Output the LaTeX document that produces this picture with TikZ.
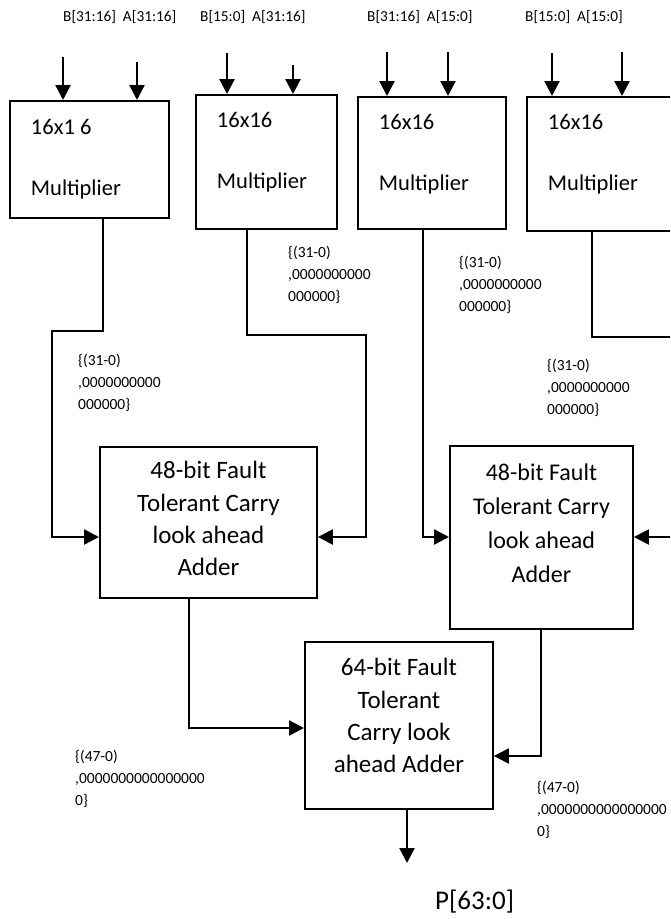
\documentclass[tikz,border=0pt]{standalone}
\usepackage{fontspec}
\setmainfont{Carlito}
\usetikzlibrary{arrows.meta}

% Fixed-size block: width, height, first baseline, setup (font/alignment), text
\newcommand\blockbox[5]{%
  \parbox[c][#2][t]{#1}{#4\rule{0pt}{#3}#5}}
\newcommand\multset{\fontsize{22.5}{61}\selectfont\leftskip=21pt\relax}
\newcommand\addset{\fontsize{25}{32.3}\selectfont\centering}
\newcommand\addsetb{\fontsize{24}{33.7}\selectfont\centering}

\begin{document}
\begin{tikzpicture}[x=1pt,y=-1pt,
  box/.style={draw, line width=1.9pt, inner sep=0pt, anchor=north west},
  wire/.style={line width=2.4pt, -{Triangle[width=15pt,length=15pt]}},
  note/.style={anchor=west, inner sep=0pt, align=left, font=\fontsize{15.5}{22}\selectfont},
  toplab/.style={anchor=west, inner sep=0pt, font=\fontsize{15.3}{18}\selectfont},
]
\useasboundingbox (0,0) rectangle (670,919);
\clip (0,0) rectangle (670,919);

% operand labels
\node[toplab] (l1) at (63,17)  {B[31:16]\ \ A[31:16]};
\node[toplab] (l2) at (200,17) {B[15:0]\ \ A[31:16]};
\node[toplab] (l3) at (367,17) {B[31:16]\ \ A[15:0]};
\node[toplab] (l4) at (525,17) {B[15:0]\ \ A[15:0]};

% 16x16 multipliers
\node[box] (m1) at (9,100)  {\blockbox{159pt}{117pt}{34pt}{\multset}{16x1 6\\Multiplier}};
\node[box] (m2) at (195,94) {\blockbox{141pt}{134pt}{33pt}{\multset}{16x16\\Multiplier}};
\node[box] (m3) at (357,96) {\blockbox{148pt}{132pt}{33pt}{\multset}{16x16\\Multiplier}};
\node[box] (m4) at (526,96) {\blockbox{150pt}{134pt}{33pt}{\multset}{16x16\\Multiplier}};

% adders
\node[box] (a1) at (99,446)  {\blockbox{217pt}{151pt}{32pt}{\addset}{48-bit Fault\\Tolerant Carry\\look ahead\\Adder}};
\node[box] (a2) at (449,445) {\blockbox{183pt}{183pt}{35pt}{\addsetb}{48-bit Fault\\Tolerant Carry\\look ahead\\Adder}};
\node[box] (a3) at (304,641) {\blockbox{188pt}{167pt}{34pt}{\addset}{64-bit Fault\\Tolerant\\Carry look\\ahead Adder}};

% result label
\node[anchor=west, inner sep=0pt, font=\fontsize{27}{32}\selectfont] (p) at (435,902) {P[63:0]};

% operand inputs
\coordinate (i1) at (63,57);  \coordinate (i2) at (137,62);
\coordinate (i3) at (227,53); \coordinate (i4) at (293,65);
\coordinate (i5) at (387,52); \coordinate (i6) at (448,52);
\coordinate (i7) at (552,53); \coordinate (i8) at (622,52);
\draw[wire] (i1) -- (i1 |- m1.north);
\draw[wire] (i2) -- (i2 |- m1.north);
\draw[wire] (i3) -- (i3 |- m2.north);
\draw[wire] (i4) -- (i4 |- m2.north);
\draw[wire] (i5) -- (i5 |- m3.north);
\draw[wire] (i6) -- (i6 |- m3.north);
\draw[wire] (i7) -- (i7 |- m4.north);
\draw[wire] (i8) -- (i8 |- m4.north);

% partial products to the 48-bit adders
\coordinate (p1a) at (103,331); \coordinate (p1b) at (52,537);
\draw[wire] (p1a |- m1.south) -- (p1a) -| (p1b) -- (p1b -| a1.west);
\coordinate (p2a) at (247,335); \coordinate (p2b) at (366,537);
\draw[wire] (p2a |- m2.south) -- (p2a) -| (p2b) -- (p2b -| a1.east);
\coordinate (p3) at (423,537);
\draw[wire] (p3 |- m3.south) -- (p3) -- (p3 -| a2.west);
\coordinate (p4a) at (592,337); \coordinate (p4b) at (700,537);
\draw[wire] (p4a |- m4.south) -- (p4a) -| (p4b) -- (p4b -| a2.east);

% sums to the 64-bit adder
\coordinate (p5) at (189,728);
\draw[wire] (p5 |- a1.south) -- (p5) -- (p5 -| a3.west);
\coordinate (p6) at (541,756);
\draw[wire] (p6 |- a2.south) -- (p6) -- (p6 -| a3.east);
\coordinate (pout) at (407,863);
\draw[wire] (pout |- a3.south) -- (pout);

% padding annotations
\node[note] (n1) at (78,383)  {\{(31-0)\\,0000000000\\000000\}};
\node[note] (n2) at (288,275) {\{(31-0)\\,0000000000\\000000\}};
\node[note] (n3) at (459,285) {\{(31-0)\\,0000000000\\000000\}};
\node[note] (n4) at (547,388) {\{(31-0)\\,0000000000\\000000\}};
\node[note] (n5) at (75,779)  {\{(47-0)\\,0000000000000000\\0\}};
\node[note] (n6) at (537,810) {\{(47-0)\\,0000000000000000\\0\}};
\end{tikzpicture}
\end{document}
